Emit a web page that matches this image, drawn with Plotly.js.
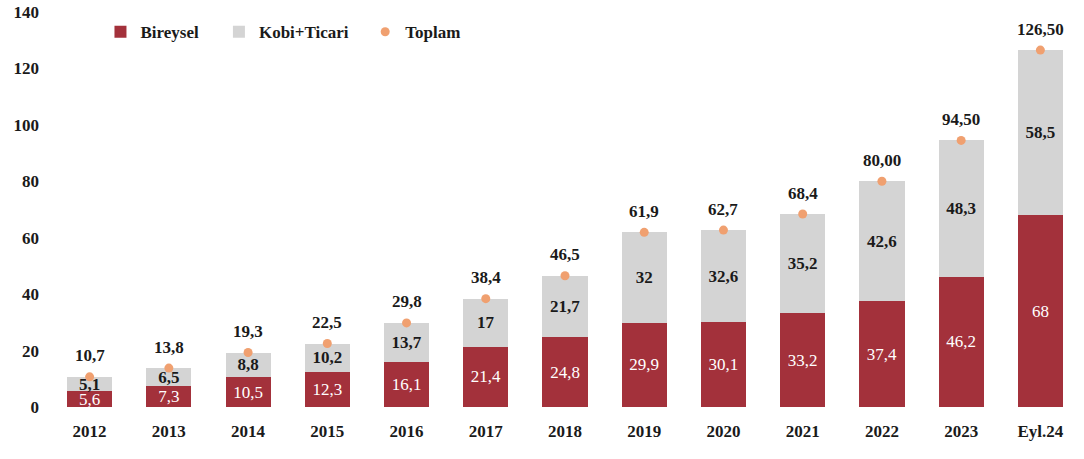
<!DOCTYPE html>
<html>
<head>
<meta charset="utf-8">
<script src="https://cdn.plot.ly/plotly-3.0.1.min.js"></script>
<style>html,body{margin:0;padding:0;background:#fff;}#chart{width:1084px;height:459px;}</style>
</head>
<body>
<div id="chart"></div>
<script>
const categories = ["2012","2013","2014","2015","2016","2017","2018","2019","2020","2021","2022","2023","Eyl.24"];
const bireysel = [5.6, 7.3, 10.5, 12.3, 16.1, 21.4, 24.8, 29.9, 30.1, 33.2, 37.4, 46.2, 68];
const kobiTicari = [5.1, 6.5, 8.8, 10.2, 13.7, 17, 21.7, 32, 32.6, 35.2, 42.6, 48.3, 58.5];
const toplam = [10.7, 13.8, 19.3, 22.5, 29.8, 38.4, 46.5, 61.9, 62.7, 68.4, 80.00, 94.50, 126.50];
const toplamLabels = ["10,7","13,8","19,3","22,5","29,8","38,4","46,5","61,9","62,7","68,4","80,00","94,50","126,50"];
const yTicks = [0, 20, 40, 60, 80, 100, 120, 140];

const fmt = v => String(v).replace('.', ',');
const serif = "Liberation Serif";
const ink = '#1a1a1a';

const traces = [
  {
    type: 'bar', name: 'Bireysel', x: categories, y: bireysel, legend: 'legend',
    marker: {color: '#a3313b'},
    text: bireysel.map(fmt), textposition: 'inside', insidetextanchor: 'middle',
    constraintext: 'none',
    textfont: {family: serif, size: 17, color: '#ffffff', weight: 'normal'},
    hoverinfo: 'y+name'
  },
  {
    type: 'bar', name: 'Kobi+Ticari', x: categories, y: kobiTicari, legend: 'legend2',
    marker: {color: '#d4d4d4'},
    text: kobiTicari.map(fmt), textposition: 'inside', insidetextanchor: 'middle',
    constraintext: 'none',
    textfont: {family: serif, size: 17, color: ink, weight: 'bold'},
    hoverinfo: 'y+name'
  },
  {
    type: 'scatter', mode: 'markers', name: 'Toplam', x: categories, y: toplam, legend: 'legend3',
    marker: {color: '#f0a070', size: 9},
    cliponaxis: false
  }
];

// annotations use the category index on the category axis
const annotations = toplam.map((v, i) => ({
  x: i, y: v, xref: 'x', yref: 'y',
  text: toplamLabels[i], showarrow: false, yshift: 21,
  font: {family: serif, size: 17, color: ink, weight: 'bold'}
}));

const legendBase = {
  orientation: 'h', y: 0.949, xanchor: 'left', yanchor: 'middle',
  font: {family: serif, size: 17, color: ink, weight: 'bold'},
  bgcolor: 'rgba(0,0,0,0)', itemwidth: 30
};

const layout = {
  width: 1084, height: 459,
  margin: {l: 50, r: 4, t: 12, b: 52},
  paper_bgcolor: '#ffffff', plot_bgcolor: '#ffffff',
  barmode: 'stack', bargap: 0.43,
  font: {family: serif, size: 17, color: ink},
  showlegend: true,
  legend: Object.assign({}, legendBase, {x: 0.049}),
  legend2: Object.assign({}, legendBase, {x: 0.164}),
  legend3: Object.assign({}, legendBase, {x: 0.306}),
  annotations: annotations,
  xaxis: {
    type: 'category', categoryorder: 'array', categoryarray: categories,
    range: [-0.5, categories.length - 0.5],
    showgrid: false, zeroline: false, showline: false,
    ticks: '', ticklabelstandoff: 12, automargin: false,
    tickfont: {family: serif, size: 17, color: ink, weight: 'bold'}
  },
  yaxis: {
    range: [0, 140], tickvals: yTicks,
    showgrid: false, zeroline: false, showline: false, ticks: '',
    ticklabelstandoff: 10, automargin: false,
    tickfont: {family: serif, size: 17, color: ink, weight: 'bold'}
  }
};

Plotly.newPlot('chart', traces, layout, {displayModeBar: false, staticPlot: true});
</script>
</body>
</html>
